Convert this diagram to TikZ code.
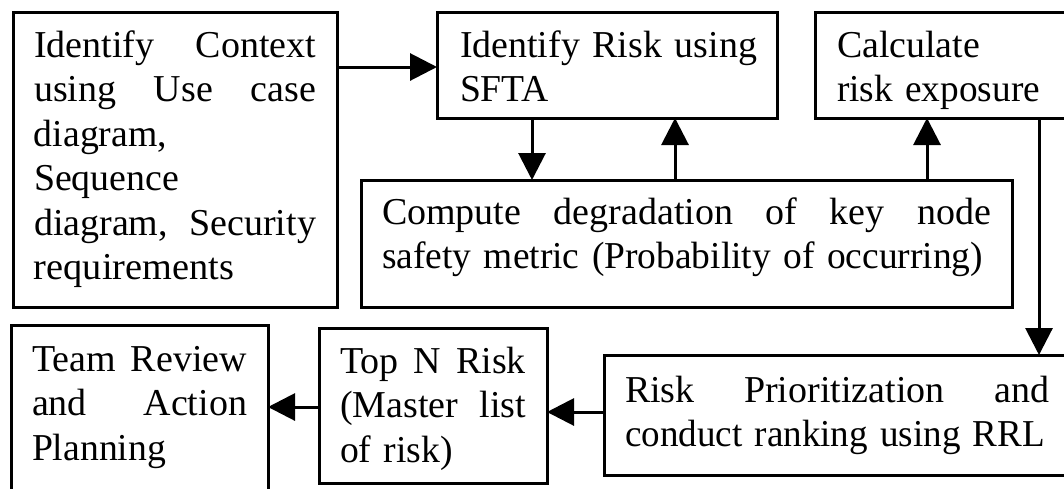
\documentclass[tikz,border=0pt]{standalone}
\usepackage{fontspec}
\usepackage{graphicx}
\setmainfont{Liberation Serif}
\usetikzlibrary{arrows.meta}
\newcommand\jline[2]{\leavevmode\hbox to #1{#2}}
\newcommand\fline[2]{\leavevmode\resizebox{#1}{\height}{#2}}
\begin{document}
\begin{tikzpicture}[x=1pt,y=-1pt,
  box/.style={draw, line width=3pt, anchor=north west, align=left, outer sep=0pt,
    inner ysep=0pt, font=\fontsize{38}{44.5}\selectfont},
  arr/.style={line width=3pt, -{Triangle[length=27pt,width=27pt]}}]
\useasboundingbox (0,0) rectangle (1064,488);
\clip (0,0) rectangle (1064,488);
\fill[white] (0,0) rectangle (1064,488);

\node[box, inner xsep=21pt, text width=282pt, text height=45pt, text depth=250pt] (b1) at (13,12)
  {\jline{282pt}{Identify\hfill Context}\\ \jline{282pt}{using\hfill Use\hfill case}\\ \fline{133pt}{diagram,}\\ \fline{145pt}{Sequence}\\ \jline{282pt}{diagram,\hfill Security}\\ \fline{200pt}{requirements}};
\node[box, inner xsep=23pt, text width=294pt, text height=45pt, text depth=61pt] (b2) at (437,12)
  {\fline{297pt}{Identify Risk using}\\ \fline{89pt}{SFTA}};
\node[box, inner xsep=22pt, text width=213pt, text height=45pt, text depth=61pt] (b3) at (815,12)
  {\fline{143pt}{Calculate}\\ \fline{203pt}{risk exposure}};
\node[box, inner xsep=21pt, text width=609pt, text height=44pt, text depth=83pt] (b4) at (361,180)
  {\jline{609pt}{Compute\hfill degradation\hfill of\hfill key\hfill node}\\ \fline{601pt}{safety metric (Probability of occurring)}};
\node[box, inner xsep=21pt, text width=215pt, text height=46pt, text depth=124pt] (b5) at (11,325)
  {\jline{215pt}{Team\hfill Review}\\ \jline{215pt}{and\hfill Action}\\ \fline{134pt}{Planning}};
\node[box, inner xsep=21pt, text width=186pt, text height=45pt, text depth=110pt] (b6) at (319,328)
  {\jline{186pt}{Top\hfill N\hfill Risk}\\ \jline{186pt}{(Master\hfill list}\\ \fline{113pt}{of risk)}};
\node[box, inner xsep=21pt, text width=424pt, text height=47pt, text depth=73pt] (b7) at (604,355)
  {\jline{424pt}{Risk\hfill Prioritization\hfill and}\\ \fline{420pt}{conduct ranking using RRL}};

\coordinate (xa) at (532,0);
\coordinate (xb) at (675,0);
\coordinate (xc) at (927,0);
\coordinate (xd) at (1039,0);
\coordinate (ya) at (0,67);
\coordinate (yb) at (0,412);
\coordinate (yc) at (0,407);

\draw[arr] (b1.east |- ya) -- (b2.west |- ya);
\draw[arr] (b2.south -| xa) -- (b4.north -| xa);
\draw[arr] (b4.north -| xb) -- (b2.south -| xb);
\draw[arr] (b4.north -| xc) -- (b3.south -| xc);
\draw[arr] (b3.south -| xd) -- (b7.north -| xd);
\draw[arr] (b7.west |- yb) -- (b6.east |- yb);
\draw[arr] (b6.west |- yc) -- (b5.east |- yc);
\end{tikzpicture}
\end{document}
